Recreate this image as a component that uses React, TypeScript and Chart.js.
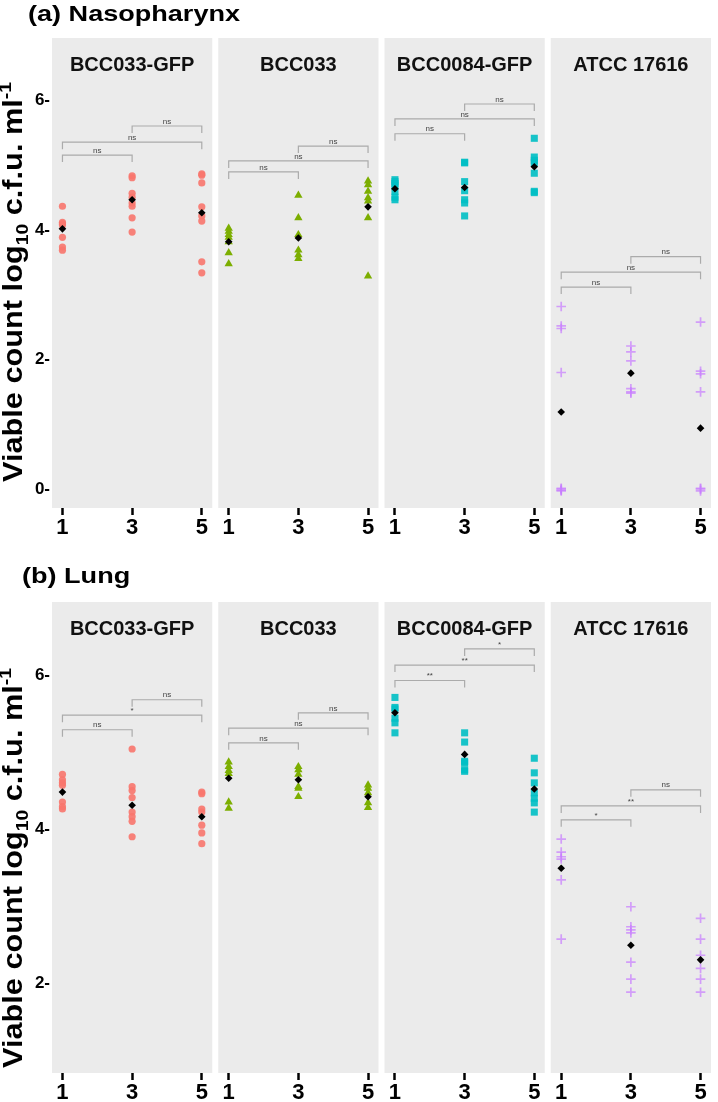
import React, { useEffect, useRef } from "react";
import { Chart, registerables } from "chart.js";
Chart.register(...registerables);

// ---------- data ----------
const DAYS = [1, 3, 5];
const STRAINS = ["BCC033-GFP", "BCC033", "BCC0084-GFP", "ATCC 17616"];
const NASO_Y_TICKS = [0, 2, 4, 6];
const LUNG_Y_TICKS = [2, 4, 6];
const PAIRS = [[0, 1], [0, 2], [1, 2]]; // 1 vs 3, 1 vs 5, 3 vs 5

// (a) Nasopharynx: per strain, [day1, day3, day5]
const nasoBCC033GFP = [
  [4.37, 4.12, 4.1, 4.08, 3.89, 3.74, 3.69],
  [4.84, 4.81, 4.57, 4.51, 4.42, 4.37, 4.19, 3.97],
  [4.87, 4.85, 4.73, 4.36, 4.22, 4.14, 3.51, 3.34],
];
const nasoBCC033 = [
  [4.03, 3.98, 3.93, 3.89, 3.82, 3.65, 3.48],
  [4.54, 4.19, 3.93, 3.69, 3.62, 3.56],
  [4.76, 4.7, 4.6, 4.5, 4.45, 4.19, 3.29],
];
const nasoBCC0084GFP = [
  [4.78, 4.75, 4.72, 4.68, 4.6, 4.51, 4.47],
  [5.05, 5.04, 4.75, 4.61, 4.47, 4.42, 4.22],
  [5.42, 5.13, 5.08, 5.04, 4.88, 4.6, 4.58],
];
const nasoATCC17616 = [
  [2.82, 2.52, 2.48, 1.8, 0.0, -0.03, -0.02, 0.01],
  [2.21, 2.12, 1.98, 1.55, 1.5, 1.48],
  [2.58, 1.82, 1.78, 1.5, 0.0, -0.03, 0.01],
];
const nasoMeans = [
  [4.02, 4.47, 4.27],
  [3.82, 3.88, 4.36],
  [4.64, 4.66, 4.98],
  [1.19, 1.79, 0.94],
];
const nasoBracketY = [
  [5.16, 5.36, 5.61],
  [4.9, 5.07, 5.3],
  [5.49, 5.72, 5.95],
  [3.12, 3.35, 3.59],
];
const nasoBracketLabels = [
  ["ns", "ns", "ns"],
  ["ns", "ns", "ns"],
  ["ns", "ns", "ns"],
  ["ns", "ns", "ns"],
];

// (b) Lung
const lungBCC033GFP = [
  [4.71, 4.64, 4.6, 4.57, 4.35, 4.29, 4.26],
  [5.04, 4.55, 4.5, 4.41, 4.22, 4.16, 4.1, 3.9],
  [4.48, 4.46, 4.26, 4.22, 4.05, 3.95, 3.81],
];
const lungBCC033 = [
  [4.87, 4.81, 4.76, 4.72, 4.35, 4.27],
  [4.81, 4.77, 4.71, 4.55, 4.53, 4.42],
  [4.57, 4.53, 4.47, 4.34, 4.28],
];
const lungBCC0084GFP = [
  [5.71, 5.58, 5.56, 5.44, 5.38, 5.25],
  [5.25, 5.13, 4.88, 4.86, 4.77, 4.75],
  [4.92, 4.73, 4.6, 4.47, 4.4, 4.34, 4.22],
];
const lungATCC17616 = [
  [3.87, 3.7, 3.64, 3.61, 3.34, 2.57],
  [2.99, 2.73, 2.69, 2.65, 2.27, 2.05, 1.88],
  [2.84, 2.57, 2.36, 2.19, 2.05, 1.88],
];
const lungMeans = [
  [4.48, 4.31, 4.16],
  [4.66, 4.64, 4.42],
  [5.51, 4.97, 4.52],
  [3.49, 2.49, 2.3],
];
const lungBracketY = [
  [5.29, 5.48, 5.68],
  [5.12, 5.31, 5.51],
  [5.93, 6.13, 6.34],
  [4.12, 4.3, 4.51],
];
const lungBracketLabels = [
  ["ns", "*", "ns"],
  ["ns", "ns", "ns"],
  ["**", "**", "*"],
  ["*", "**", "ns"],
];

// ---------- styles / layout ----------
const FONT = '"Liberation Sans", Arial, Helvetica, sans-serif';
const SHAPES = ["circle", "triangle", "rect", "cross"];
const COLORS = [
  "rgba(248,118,109,0.9)",
  "rgba(124,174,0,1)",
  "rgba(0,191,196,0.9)",
  "rgba(199,124,255,0.7)",
];
const RADII = [3.6, 4.8, 5, 4.8];
const X_MIN = 0.7;
const FACET_SPAN = 4.6;
const FACET_GAP = 0.1725;
const FACET_STEP = FACET_SPAN + FACET_GAP;
const X_MAX = X_MIN + 4 * FACET_SPAN + 3 * FACET_GAP;

type Panel = {
  title: string;
  titleX: number;
  titleBaseline: number;
  series: number[][][];
  means: number[][];
  bracketY: number[][];
  bracketLabels: string[][];
  yMin: number;
  yMax: number;
  yTicks: number[];
  height: number;
  padTop: number;
  axisH: number;
  yTitleCenter: number;
};

const PANELS: Panel[] = [
  {
    title: "(a) Nasopharynx",
    titleX: 28,
    titleBaseline: 21,
    series: [nasoBCC033GFP, nasoBCC033, nasoBCC0084GFP, nasoATCC17616],
    means: nasoMeans,
    bracketY: nasoBracketY,
    bracketLabels: nasoBracketLabels,
    yMin: -0.294,
    yMax: 6.97,
    yTicks: NASO_Y_TICKS,
    height: 540,
    padTop: 38,
    axisH: 32,
    yTitleCenter: 282,
  },
  {
    title: "(b) Lung",
    titleX: 22,
    titleBaseline: 43,
    series: [lungBCC033GFP, lungBCC033, lungBCC0084GFP, lungATCC17616],
    means: lungMeans,
    bracketY: lungBracketY,
    bracketLabels: lungBracketLabels,
    yMin: 0.83,
    yMax: 6.95,
    yTicks: LUNG_Y_TICKS,
    height: 562,
    padTop: 62,
    axisH: 29,
    yTitleCenter: 328,
  },
];

const facetPlugin = {
  id: "facets",
  beforeDatasetsDraw(chart: any, _args: any, opts: any) {
    const p: Panel = opts.panel;
    const { ctx, chartArea: ca } = chart;
    const x = chart.scales.x;
    const y = chart.scales.y;
    ctx.save();
    STRAINS.forEach((name, k) => {
      const off = k * FACET_STEP;
      const l = x.getPixelForValue(off + X_MIN);
      const r = x.getPixelForValue(off + X_MIN + FACET_SPAN);
      ctx.fillStyle = "#EBEBEB";
      ctx.fillRect(l, ca.top, r - l, ca.bottom - ca.top);
      ctx.fillStyle = "#111";
      ctx.font = `bold 20px ${FONT}`;
      ctx.textAlign = "center";
      ctx.textBaseline = "alphabetic";
      ctx.fillText(name, (l + r) / 2, ca.top + 33);
      // significance brackets
      PAIRS.forEach(([a, b], i) => {
        const xa = x.getPixelForValue(off + DAYS[a]);
        const xb = x.getPixelForValue(off + DAYS[b]);
        const yy = y.getPixelForValue(p.bracketY[k][i]);
        ctx.strokeStyle = "#ABABAB";
        ctx.lineWidth = 1.2;
        ctx.beginPath();
        ctx.moveTo(xa, yy + 7);
        ctx.lineTo(xa, yy);
        ctx.lineTo(xb, yy);
        ctx.lineTo(xb, yy + 7);
        ctx.stroke();
        ctx.fillStyle = "#444";
        ctx.font = `8px ${FONT}`;
        ctx.textBaseline = "bottom";
        ctx.fillText(p.bracketLabels[k][i], (xa + xb) / 2, yy - 0.5);
      });
    });
    ctx.restore();
  },
  afterDraw(chart: any, _args: any, opts: any) {
    const p: Panel = opts.panel;
    const { ctx } = chart;
    ctx.save();
    // panel title
    ctx.translate(p.titleX, p.titleBaseline);
    ctx.scale(1.23, 1);
    ctx.fillStyle = "#000";
    ctx.font = `bold 22px ${FONT}`;
    ctx.textAlign = "left";
    ctx.textBaseline = "alphabetic";
    ctx.fillText(p.title, 0, 0);
    ctx.restore();

    // y-axis title
    ctx.save();
    const big = `bold 27px ${FONT}`;
    const small = `bold 17px ${FONT}`;
    const parts = [
      { t: "Viable count log", f: big, dy: 0 },
      { t: "10", f: small, dy: 6 },
      { t: " c.f.u. ml", f: big, dy: 0 },
      { t: "-1", f: small, dy: -11 },
    ];
    let total = 0;
    const widths = parts.map((q) => {
      ctx.font = q.f;
      const w = ctx.measureText(q.t).width;
      total += w;
      return w;
    });
    const sx = 400 / total;
    ctx.translate(22, p.yTitleCenter);
    ctx.rotate(-Math.PI / 2);
    ctx.scale(sx, 1);
    ctx.fillStyle = "#000";
    ctx.textAlign = "left";
    ctx.textBaseline = "alphabetic";
    let cx = -total / 2;
    parts.forEach((q, i) => {
      ctx.font = q.f;
      ctx.fillText(q.t, cx, q.dy);
      cx += widths[i];
    });
    ctx.restore();
  },
};

function buildConfig(p: Panel): any {
  const datasets: any[] = p.series.map((days, k) => ({
    label: STRAINS[k],
    order: 1,
    data: days.flatMap((vals, d) => vals.map((v) => ({ x: k * FACET_STEP + DAYS[d], y: v }))),
    pointStyle: SHAPES[k],
    pointRadius: RADII[k],
    backgroundColor: COLORS[k],
    borderColor: COLORS[k],
    borderWidth: SHAPES[k] === "cross" ? 1.7 : 0,
    showLine: false,
  }));
  datasets.push({
    label: "mean",
    order: 0,
    data: p.means.flatMap((m, k) => m.map((v, d) => ({ x: k * FACET_STEP + DAYS[d], y: v }))),
    pointStyle: "rectRot",
    pointRadius: 3.8,
    backgroundColor: "#000",
    borderColor: "#000",
    borderWidth: 0,
    showLine: false,
  });
  const xTicks: number[] = [];
  STRAINS.forEach((_, k) => DAYS.forEach((d) => xTicks.push(k * FACET_STEP + d)));
  return {
    type: "scatter",
    data: { datasets },
    plugins: [facetPlugin],
    options: {
      animation: false,
      responsive: false,
      devicePixelRatio: 1,
      layout: { padding: { top: p.padTop, right: 7, left: 0, bottom: 0 } },
      plugins: {
        legend: { display: false },
        tooltip: { enabled: false },
        facets: { panel: p },
      },
      scales: {
        x: {
          type: "linear",
          min: X_MIN,
          max: X_MAX,
          afterBuildTicks: (s: any) => {
            s.ticks = xTicks.map((v) => ({ value: v }));
          },
          afterFit: (s: any) => {
            s.height = p.axisH;
          },
          ticks: {
            autoSkip: false,
            maxRotation: 0,
            minRotation: 0,
            padding: 0,
            color: "#000",
            font: { size: 22, weight: "bold", family: FONT },
            callback: (_v: any, i: number) => String(DAYS[i % 3]),
          },
          grid: {
            display: true,
            drawOnChartArea: false,
            drawTicks: true,
            tickLength: 7,
            tickWidth: 2.5,
            tickColor: "#000",
          },
          border: { display: false },
        },
        y: {
          type: "linear",
          min: p.yMin,
          max: p.yMax,
          afterBuildTicks: (s: any) => {
            s.ticks = p.yTicks.map((v) => ({ value: v }));
          },
          afterFit: (s: any) => {
            s.width = 52;
          },
          ticks: {
            padding: 2,
            color: "#000",
            font: { size: 17, weight: "bold", family: FONT },
            callback: (v: any) => `${v}-`,
          },
          grid: { display: false, drawTicks: false },
          border: { display: false },
        },
      },
    },
  };
}

function PanelChart({ panel, top }: { panel: Panel; top: number }) {
  const ref = useRef<HTMLCanvasElement | null>(null);
  useEffect(() => {
    if (!ref.current) return;
    const chart = new Chart(ref.current, buildConfig(panel));
    return () => chart.destroy();
  }, [panel]);
  return (
    <canvas
      ref={ref}
      width={718}
      height={panel.height}
      style={{ position: "absolute", left: 0, top, width: 718, height: panel.height, display: "block" }}
    />
  );
}

export default function App() {
  return (
    <div style={{ position: "absolute", left: 0, top: 0, width: 718, height: 1102, background: "#fff", overflow: "hidden" }}>
      <PanelChart panel={PANELS[0]} top={0} />
      <PanelChart panel={PANELS[1]} top={540} />
    </div>
  );
}
